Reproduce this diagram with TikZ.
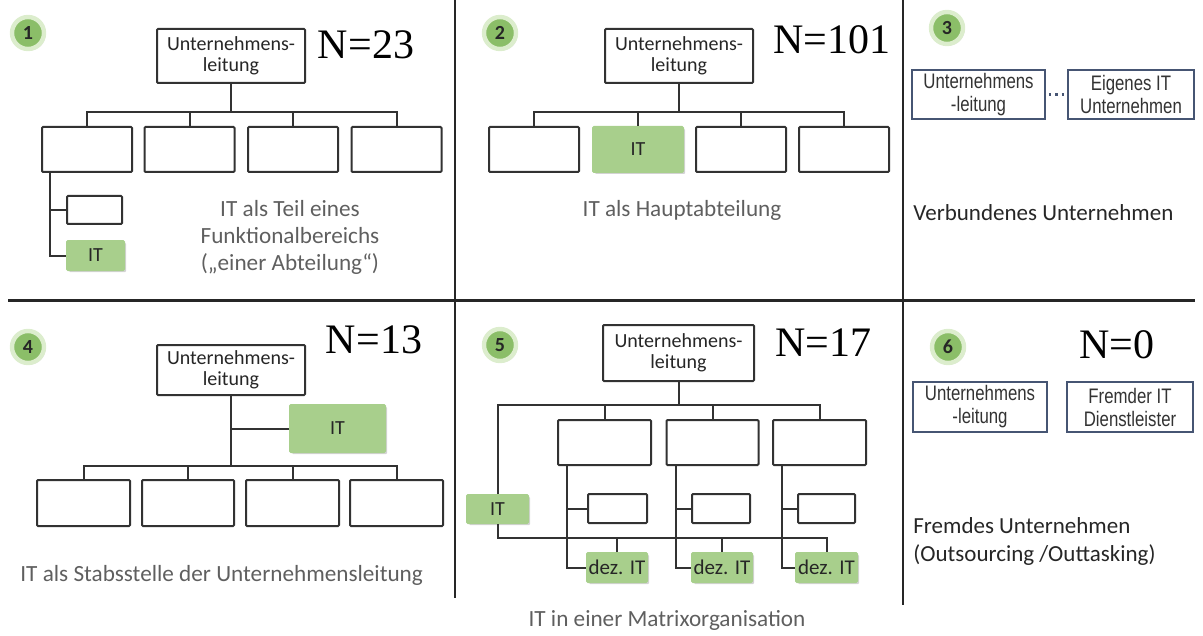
\documentclass[tikz,border=0pt]{standalone}
\usepackage{fontspec}
\setmainfont{Carlito}
\newfontfamily\serifnum{Liberation Serif}
\newfontfamily\narrowsans[FakeStretch=0.8]{Liberation Sans}
\usetikzlibrary{calc,shadows}
\definecolor{itgreen}{RGB}{168,207,140}
\definecolor{badgegreen}{RGB}{139,190,104}
\definecolor{badgering}{RGB}{220,237,205}
\definecolor{linegrey}{RGB}{50,50,50}
\definecolor{textgrey}{RGB}{95,95,95}
\definecolor{boxblue}{RGB}{70,85,115}
\tikzstyle{orgbox}=[
    draw = linegrey,
    line width = 1pt,
    fill = white,
    rounded corners = 0.5pt,
    inner sep = 0pt,
    align = center,
    text = black!85,
    font = \fontsize{10}{10.5}\selectfont
]
\tikzstyle{deptbox}=[
    orgbox,
    minimum width = 45pt,
    minimum height = 22.5pt
]
\tikzstyle{itbox}=[
    orgbox,
    draw = itgreen,
    fill = itgreen,
    text = black!85,
    drop shadow = {opacity=0.35, shadow xshift=1pt, shadow yshift=-1pt}
]
\tikzstyle{badge}=[
    circle,
    fill = badgegreen,
    draw = badgering,
    line width = 2.2pt,
    minimum size = 16pt,
    inner sep = 0pt,
    text = black!85,
    font = \bfseries\fontsize{10}{10}\selectfont,
    drop shadow = {opacity=0.25, shadow xshift=0.8pt, shadow yshift=-0.8pt}
]
\tikzstyle{extbox}=[
    draw = boxblue,
    line width = 0.8pt,
    fill = white,
    inner sep = 0pt,
    align = center,
    text = black!80,
    font = \narrowsans\fontsize{10.5}{11.5}\selectfont
]
\tikzstyle{count}=[inner sep = 0pt, font = \serifnum\fontsize{21}{21}\selectfont]
\tikzstyle{caption}=[inner sep = 0pt, align = center, text = textgrey, font = \fontsize{11.6}{13.5}\selectfont]
\tikzstyle{note}=[inner sep = 0pt, align = left, anchor = west, text = black!85, font = \fontsize{11.5}{14}\selectfont]
\tikzstyle{wire}=[draw = linegrey, line width = 1pt]
\tikzstyle{divider}=[draw = black!85, line width = 1pt]

\begin{document}
\begin{tikzpicture}[x=0.5pt, y=-0.5pt]
\useasboundingbox (0,0) rectangle (1203,636);

% Rahmen
\draw[divider] (455,0) -- (455,598);
\draw[divider] (903,0) -- (903,605);
\draw[divider, line width=1.5pt] (8,300) -- (1195,300);

% 1: Teil eines Funktionalbereichs
\node[badge] (b1) at (28,33) {1};
\node[orgbox, minimum width=74pt, minimum height=27pt] (top1) at (231,56) {Unternehmens-\\leitung};
\node[count] (n1) at (366,45) {N=23};
\node[deptbox] (a1) at (87,149.5) {};
\node[deptbox] (a2) at (189.5,149.5) {};
\node[deptbox] (a3) at (293,149.5) {};
\node[deptbox] (a4) at (396.5,149.5) {};
\node[orgbox, minimum width=27.5pt, minimum height=14pt] (s1) at (94.5,210) {};
\node[itbox, minimum width=28.5pt, minimum height=14.5pt] (it1) at (95.5,255.5) {IT};
\node[caption] (c1) at (290,237) {IT als Teil eines\\Funktionalbereichs\\(„einer Abteilung“)};
\coordinate (bus1) at (231,112);
\coordinate (v1) at ($(a1.south west)+(9,0)$);
\draw[wire] (top1.south) -- (bus1);
\draw[wire] (a1.north) |- (bus1) -| (a4.north);
\draw[wire] (a2.north) -- (a2.north |- bus1);
\draw[wire] (a3.north) -- (a3.north |- bus1);
\draw[wire] (v1) |- (it1.west);
\draw[wire] (v1 |- s1.west) -- (s1.west);

% 2: Hauptabteilung
\node[badge] (b2) at (500,33) {2};
\node[orgbox, minimum width=74pt, minimum height=27pt] (top2) at (679,56) {Unternehmens-\\leitung};
\node[count] (n2) at (832,40) {N=101};
\node[deptbox] (h1) at (534,149.5) {};
\node[itbox, minimum width=45pt, minimum height=22.5pt] (h2) at (638,149.5) {IT};
\node[deptbox] (h3) at (741,149.5) {};
\node[deptbox] (h4) at (844,149.5) {};
\node[caption] (c2) at (682,210) {IT als Hauptabteilung};
\coordinate (bus2) at (679,112);
\draw[wire] (top2.south) -- (bus2);
\draw[wire] (h1.north) |- (bus2) -| (h4.north);
\draw[wire] (h2.north) -- (h2.north |- bus2);
\draw[wire] (h3.north) -- (h3.north |- bus2);

% 3: verbundenes Unternehmen
\node[badge] (b3) at (947,28) {3};
\node[extbox, minimum width=66.5pt, minimum height=24.5pt] (ul3) at (978.5,94.5) {Unternehmens\\-leitung};
\node[extbox, minimum width=63pt, minimum height=24.5pt] (eit3) at (1131,94.5) {Eigenes IT\\Unternehmen};
\draw[boxblue, line width=1.2pt, dash pattern=on 1.2pt off 2pt, shorten <=1.5pt, shorten >=1.5pt] (ul3.east) -- (eit3.west);
\node[note] (v3) at (913,213) {Verbundenes Unternehmen};

% 4: Stabsstelle
\node[badge] (b4) at (28,347) {4};
\node[orgbox, minimum width=74pt, minimum height=25pt] (top4) at (231,370) {Unternehmens-\\leitung};
\node[count] (n4) at (374,340) {N=13};
\node[itbox, minimum width=47.5pt, minimum height=23.5pt] (it4) at (337.5,428.5) {IT};
\node[orgbox, minimum width=46.5pt, minimum height=23pt] (d1) at (83.5,503) {};
\node[orgbox, minimum width=46pt, minimum height=23pt] (d2) at (188,503) {};
\node[orgbox, minimum width=46.5pt, minimum height=23pt] (d3) at (292.5,503) {};
\node[orgbox, minimum width=46.5pt, minimum height=23pt] (d4) at (396.5,503) {};
\node[caption, anchor=west] (c4) at (20,575) {IT als Stabsstelle der Unternehmensleitung};
\coordinate (bus4) at (231,466);
\draw[wire] (top4.south) -- (bus4);
\draw[wire] (it4.west) -- (it4.west -| top4.south);
\draw[wire] (d1.north) |- (bus4) -| (d4.north);
\draw[wire] (d2.north) -- (d2.north |- bus4);
\draw[wire] (d3.north) -- (d3.north |- bus4);

% 5: Matrixorganisation
\node[badge] (b5) at (500,345) {5};
\node[orgbox, minimum width=75.5pt, minimum height=28pt] (top5) at (678.5,353) {Unternehmens-\\leitung};
\node[count] (n5) at (823,343) {N=17};
\node[itbox, minimum width=30.5pt, minimum height=14pt] (itm) at (497.5,509) {IT};
\node[orgbox, minimum width=46.5pt, minimum height=22.5pt] (m1) at (604.5,442.5) {};
\node[orgbox, minimum width=46pt, minimum height=22.5pt] (m2) at (712.5,442.5) {};
\node[orgbox, minimum width=46.5pt, minimum height=22.5pt] (m3) at (819.5,442.5) {};
\node[orgbox, minimum width=29.5pt, minimum height=14.5pt] (p1) at (617.5,508.5) {};
\node[orgbox, minimum width=29pt, minimum height=14.5pt] (p2) at (721,508.5) {};
\node[orgbox, minimum width=28.5pt, minimum height=14.5pt] (p3) at (826.5,508.5) {};
\node[itbox, minimum width=30pt, minimum height=14.5pt, font=\fontsize{10.5}{10.5}\selectfont] (dz1) at (617,567.5) {dez. IT};
\node[itbox, minimum width=30pt, minimum height=14.5pt, font=\fontsize{10.5}{10.5}\selectfont] (dz2) at (722,567.5) {dez. IT};
\node[itbox, minimum width=30.5pt, minimum height=14.5pt, font=\fontsize{10.5}{10.5}\selectfont] (dz3) at (826.5,567.5) {dez. IT};
\node[caption] (c5) at (667,620) {IT in einer Matrixorganisation};
\coordinate (bus5) at (678.5,405);
\coordinate (mb) at (497.5,538);
\coordinate (w1) at ($(m1.south west)+(10,0)$);
\coordinate (w2) at ($(m2.south west)+(10,0)$);
\coordinate (w3) at ($(m3.south west)+(10,0)$);
\draw[wire] (top5.south) -- (bus5);
\draw[wire] (itm.north) |- (bus5) -| (m3.north);
\draw[wire] (m1.north) -- (m1.north |- bus5);
\draw[wire] (m2.north) -- (m2.north |- bus5);
\draw[wire] (w1) |- (dz1.west);
\draw[wire] (w2) |- (dz2.west);
\draw[wire] (w3) |- (dz3.west);
\draw[wire] (w1 |- p1.west) -- (p1.west);
\draw[wire] (w2 |- p2.west) -- (p2.west);
\draw[wire] (w3 |- p3.west) -- (p3.west);
\draw[wire] (itm.south) |- (dz3.north |- mb) -- (dz3.north);
\draw[wire] (dz1.north) -- (dz1.north |- mb);
\draw[wire] (dz2.north) -- (dz2.north |- mb);

% 6: fremdes Unternehmen
\node[badge] (b6) at (948,347) {6};
\node[count] (n6) at (1117,345) {N=0};
\node[extbox, minimum width=67pt, minimum height=25pt] (ul6) at (980,407) {Unternehmens\\-leitung};
\node[extbox, minimum width=63pt, minimum height=25pt] (fit6) at (1130,407) {Fremder IT\\Dienstleister};
\node[note] (v6) at (913,541) {Fremdes Unternehmen\\(Outsourcing /Outtasking)};
\end{tikzpicture}
\end{document}
